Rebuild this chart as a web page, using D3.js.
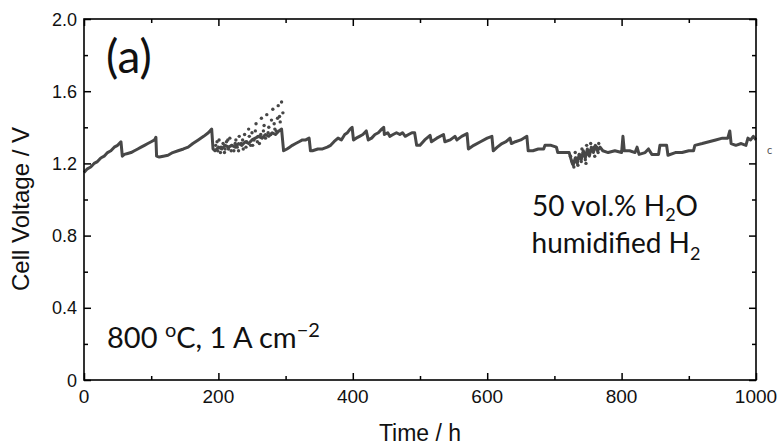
<!DOCTYPE html>
<html>
<head>
<meta charset="utf-8">
<script src="https://cdn.jsdelivr.net/npm/d3@7"></script>
<style>
  body { margin: 0; background: #fff; }
  svg { display: block; }
</style>
</head>
<body>
<div id="chart"></div>
<script>
// main trace (time in h, voltage in V)
const timeH = [0, 5, 10, 15, 20, 25, 30, 35, 40, 45, 50, 55,
  57, 60, 65, 70, 75, 80, 85, 90, 95, 100, 105, 107,
  108, 112, 118, 125, 132, 140, 148, 155, 162, 170, 178, 185, 190,
  192, 195, 200, 205, 210, 215, 220, 225, 230, 235, 240, 245, 250, 255, 260, 265, 270, 275, 280, 285, 290, 294,
  297, 302, 306, 310, 315, 320, 325, 330, 335,
  337, 340, 348, 355, 362, 367, 372, 378, 383, 388, 392, 396, 399,
  401, 405, 410, 415, 420, 423, 428, 433, 438, 443, 446,
  447, 452, 455, 460, 465, 470, 474, 478, 483, 488, 492,
  495, 500, 507, 515, 517, 525, 535, 537, 545, 552, 555, 562, 570,
  572, 580, 590, 600, 607, 609, 615, 622, 628, 634, 636, 642, 650, 659,
  661, 668, 676, 684, 686, 695, 703, 705, 715, 722,
  725, 728, 731, 734, 737, 740, 743, 746, 749, 752, 755, 758, 761, 764, 768,
  772, 780, 790, 800, 802, 804, 812, 820, 823, 826, 835, 840, 845, 855,
  857, 867, 869, 880, 890, 900, 907, 909, 920, 930, 940, 950, 958, 961,
  963, 970, 978, 985, 988, 992, 996, 1000];
const voltV = [1.15, 1.17, 1.18, 1.20, 1.21, 1.23, 1.24, 1.26, 1.27, 1.29, 1.30, 1.32,
  1.24, 1.25, 1.255, 1.26, 1.27, 1.28, 1.29, 1.30, 1.31, 1.32, 1.33, 1.345,
  1.24, 1.235, 1.24, 1.245, 1.26, 1.27, 1.28, 1.29, 1.31, 1.33, 1.35, 1.37, 1.39,
  1.28, 1.27, 1.29, 1.28, 1.30, 1.29, 1.30, 1.29, 1.31, 1.30, 1.32, 1.31, 1.33, 1.34, 1.35, 1.34, 1.36, 1.35, 1.37, 1.36, 1.38, 1.39,
  1.27, 1.28, 1.29, 1.30, 1.31, 1.32, 1.33, 1.33, 1.34,
  1.27, 1.27, 1.28, 1.28, 1.29, 1.30, 1.32, 1.34, 1.33, 1.36, 1.37, 1.39, 1.40,
  1.33, 1.34, 1.35, 1.36, 1.38, 1.33, 1.34, 1.36, 1.37, 1.39, 1.40,
  1.36, 1.37, 1.35, 1.36, 1.37, 1.36, 1.37, 1.35, 1.36, 1.37, 1.37,
  1.30, 1.30, 1.33, 1.355, 1.32, 1.34, 1.36, 1.32, 1.33, 1.35, 1.33, 1.35, 1.365,
  1.28, 1.30, 1.32, 1.34, 1.35, 1.27, 1.29, 1.31, 1.32, 1.34, 1.31, 1.32, 1.33, 1.35,
  1.27, 1.27, 1.28, 1.28, 1.30, 1.30, 1.29, 1.26, 1.26, 1.26,
  1.22, 1.19, 1.23, 1.20, 1.25, 1.22, 1.27, 1.23, 1.28, 1.24, 1.29, 1.26, 1.30, 1.27, 1.29,
  1.27, 1.26, 1.27, 1.26, 1.35, 1.27, 1.27, 1.26, 1.29, 1.25, 1.26, 1.28, 1.25, 1.25,
  1.30, 1.30, 1.245, 1.26, 1.26, 1.27, 1.27, 1.30, 1.31, 1.32, 1.33, 1.34, 1.34, 1.38,
  1.31, 1.30, 1.31, 1.30, 1.34, 1.33, 1.35, 1.33];

// scattered points around 200-300 h and 720-770 h
const scatterH = [196, 199, 201, 204, 207, 209, 212, 215, 217, 220, 223, 226, 228, 231, 234, 237, 239, 242, 245, 248,
  250, 253, 256, 259, 261, 264, 267, 270, 272, 275, 278, 281, 283, 286, 289, 291, 294,
  198, 203, 210, 214, 219, 225, 230, 236, 241, 246, 251, 255, 258, 263, 268, 274, 279, 284, 288, 292, 296,
  724, 727, 729, 732, 735, 737, 740, 743, 746, 748, 751, 754, 757, 760, 763, 766,
  726, 731, 736, 741, 747, 753, 759, 765];
const scatterV = [1.30, 1.27, 1.33, 1.29, 1.31, 1.26, 1.32, 1.28, 1.34, 1.30, 1.27, 1.33, 1.29, 1.35, 1.31, 1.28, 1.36, 1.32, 1.39, 1.30,
  1.37, 1.33, 1.42, 1.35, 1.31, 1.45, 1.38, 1.34, 1.47, 1.40, 1.36, 1.50, 1.42, 1.38, 1.52, 1.46, 1.54,
  1.32, 1.26, 1.28, 1.33, 1.27, 1.31, 1.27, 1.33, 1.29, 1.35, 1.30, 1.38, 1.32, 1.36, 1.41, 1.37, 1.44, 1.39, 1.45, 1.43, 1.48,
  1.24, 1.20, 1.18, 1.23, 1.19, 1.25, 1.21, 1.26, 1.22, 1.30, 1.25, 1.31, 1.27, 1.24, 1.29, 1.31,
  1.21, 1.26, 1.23, 1.28, 1.20, 1.27, 1.29, 1.26];

const xTicks = [0, 200, 400, 600, 800, 1000];
const xMinor = [100, 300, 500, 700, 900];
const yTicks = [0, 0.4, 0.8, 1.2, 1.6, 2.0];
const yMinor = [0.2, 0.6, 1.0, 1.4, 1.8];

const width = 777;
const height = 445;
const margin = { top: 19, right: 21, bottom: 65, left: 84 };

const svg = d3.select("#chart")
  .append("svg")
  .attr("width", width)
  .attr("height", height);

const x = d3.scaleLinear().domain([0, 1000]).range([margin.left, width - margin.right]);
const y = d3.scaleLinear().domain([0, 2]).range([height - margin.bottom, margin.top]);

const axisFont = "'Liberation Sans', Arial, sans-serif";
const noteFont = "Lato, 'Open Sans', sans-serif";
const dataColor = "#474747";

// data
const pts = timeH.map((t, i) => [t, voltV[i]]);
const line = d3.line().x(d => x(d[0])).y(d => y(d[1]));

svg.append("path")
  .datum(pts)
  .attr("d", line)
  .attr("fill", "none")
  .attr("stroke", dataColor)
  .attr("stroke-width", 3)
  .attr("stroke-linejoin", "round");

svg.append("g")
  .selectAll("circle")
  .data(scatterH.map((t, i) => [t, scatterV[i]]))
  .join("circle")
  .attr("cx", d => x(d[0]))
  .attr("cy", d => y(d[1]))
  .attr("r", 1.7)
  .attr("fill", dataColor);

// axes, ticks pointing inward on all four sides
const plotH = y(0) - y(2);
const plotW = x(1000) - x(0);

function addAxis(axis, tf, vals, len) {
  svg.append("g")
    .attr("transform", tf)
    .call(axis.tickValues(vals).tickSize(len).tickFormat(""))
    .call(g => g.select(".domain").remove())
    .selectAll("line").attr("stroke", "#000").attr("stroke-width", 1.5);
}
addAxis(d3.axisTop(x), `translate(0,${y(0)})`, xTicks, 7);
addAxis(d3.axisTop(x), `translate(0,${y(0)})`, xMinor, 4);
addAxis(d3.axisBottom(x), `translate(0,${y(2)})`, xTicks, 7);
addAxis(d3.axisBottom(x), `translate(0,${y(2)})`, xMinor, 4);
addAxis(d3.axisRight(y), `translate(${x(0)},0)`, yTicks, 7);
addAxis(d3.axisRight(y), `translate(${x(0)},0)`, yMinor, 4);
addAxis(d3.axisLeft(y), `translate(${x(1000)},0)`, yTicks, 7);
addAxis(d3.axisLeft(y), `translate(${x(1000)},0)`, yMinor, 4);

svg.append("rect")
  .attr("x", x(0))
  .attr("y", y(2))
  .attr("width", plotW)
  .attr("height", plotH)
  .attr("fill", "none")
  .attr("stroke", "#000")
  .attr("stroke-width", 1.6);

// tick labels
svg.append("g")
  .selectAll("text")
  .data(xTicks)
  .join("text")
  .attr("x", d => x(d))
  .attr("y", y(0) + 23)
  .attr("text-anchor", "middle")
  .style("font-family", axisFont)
  .style("font-size", "19px")
  .style("fill", "#111")
  .text(d => d);

svg.append("g")
  .selectAll("text")
  .data(yTicks)
  .join("text")
  .attr("x", x(0) - 7)
  .attr("y", d => y(d) + 6.5)
  .attr("text-anchor", "end")
  .style("font-family", axisFont)
  .style("font-size", "18px")
  .style("fill", "#111")
  .text(d => d === 0 ? "0" : d.toFixed(1));

// axis titles
svg.append("text")
  .attr("x", 420)
  .attr("y", 441)
  .attr("text-anchor", "middle")
  .style("font-family", axisFont)
  .style("font-size", "23px")
  .style("fill", "#111")
  .text("Time / h");

svg.append("text")
  .attr("transform", "translate(29,209) rotate(-90)")
  .attr("text-anchor", "middle")
  .style("font-family", axisFont)
  .style("font-size", "24px")
  .style("fill", "#111")
  .text("Cell Voltage / V");

// annotations
svg.append("text")
  .attr("x", 106)
  .attr("y", 73)
  .style("font-family", noteFont)
  .style("font-size", "46px")
  .style("fill", "#111")
  .text("(a)");

const t1 = svg.append("text")
  .attr("x", 615)
  .attr("y", 216)
  .attr("text-anchor", "middle")
  .style("font-family", noteFont)
  .style("font-size", "28px")
  .style("fill", "#111");
t1.append("tspan").text("50 vol.% H");
t1.append("tspan").attr("dy", 5).style("font-size", "18px").text("2");
t1.append("tspan").attr("dy", -5).text("O");

const t2 = svg.append("text")
  .attr("x", 616)
  .attr("y", 253)
  .attr("text-anchor", "middle")
  .style("font-family", noteFont)
  .style("font-size", "28px")
  .style("fill", "#111");
t2.append("tspan").text("humidified H");
t2.append("tspan").attr("dy", 7).style("font-size", "18px").text("2");

const t3 = svg.append("text")
  .attr("x", 107)
  .attr("y", 348)
  .style("font-family", noteFont)
  .style("font-size", "29px")
  .style("fill", "#111");
t3.append("tspan").text("800 ");
t3.append("tspan").attr("dy", -11).style("font-size", "20px").text("o");
t3.append("tspan").attr("dy", 11).text("C, 1 A cm");
t3.append("tspan").attr("dy", -11).style("font-size", "20px").text("\u22122");

// clipped marks at the right edge from a neighbouring panel
svg.append("text")
  .attr("x", 767)
  .attr("y", 154)
  .style("font-family", noteFont)
  .style("font-size", "11px")
  .style("fill", "#555")
  .text("c");
</script>
</body>
</html>
